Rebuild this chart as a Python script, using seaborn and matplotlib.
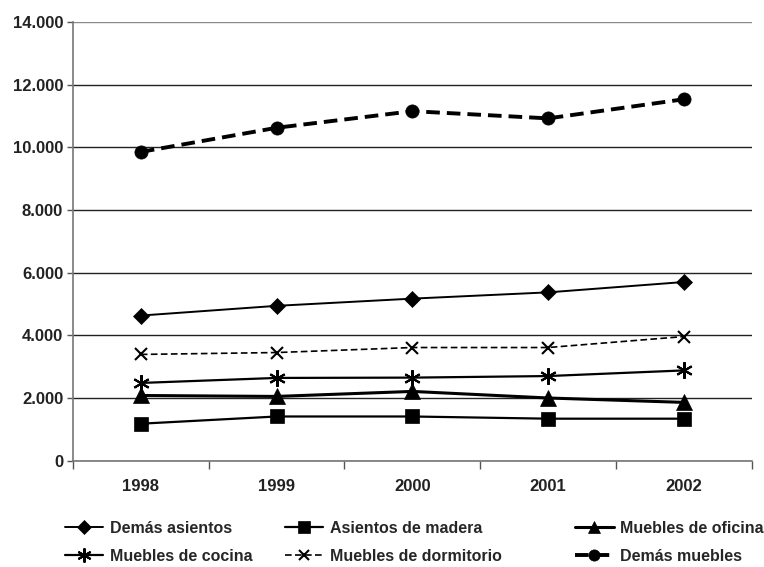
import numpy as np
import pandas as pd
import matplotlib
matplotlib.use("Agg")
import matplotlib.pyplot as plt
from matplotlib.ticker import FuncFormatter, FixedLocator
from matplotlib.lines import Line2D
import seaborn as sns

sns.set_theme(style="white")
plt.rcParams['font.family'] = ['Liberation Sans', 'DejaVu Sans']

years = ["1998", "1999", "2000", "2001", "2002"]
demas_asientos = [4630, 4940, 5170, 5370, 5700]
asientos_madera = [1180, 1410, 1410, 1340, 1340]
muebles_oficina = [2080, 2050, 2210, 2000, 1860]
muebles_cocina = [2480, 2640, 2650, 2700, 2880]
muebles_dormitorio = [3390, 3450, 3610, 3610, 3960]
demas_muebles = [9850, 10620, 11150, 10920, 11530]

series = {
    "Demás asientos": demas_asientos,
    "Asientos de madera": asientos_madera,
    "Muebles de oficina": muebles_oficina,
    "Muebles de cocina": muebles_cocina,
    "Muebles de dormitorio": muebles_dormitorio,
    "Demás muebles": demas_muebles,
}

# marker, markersize, linestyle, linewidth
styles = {
    "Demás asientos": ("D", 8, "-", 1.4),
    "Asientos de madera": ("s", 9.5, "-", 1.6),
    "Muebles de oficina": ("^", 11, "-", 2.2),
    "Muebles de cocina": ((6, 2, 0), 12, "-", 1.6),
    "Muebles de dormitorio": ("x", 8.5, (0, (4, 2)), 1.2),
    "Demás muebles": ("o", 9.5, (0, (3.5, 1.8)), 2.8),
}

fig = plt.figure(figsize=(7.64, 5.67), dpi=100)
ax = fig.add_axes([0.0955, 0.1875, 0.8885, 0.774])

xpos = np.arange(len(years))
handles = {}
for name, vals in series.items():
    m, ms, ls, lw = styles[name]
    mew = 1.5 if m in ("x", (6, 2, 0)) else 0.5
    df = pd.DataFrame({"x": xpos, "y": vals})
    sns.lineplot(data=df, x="x", y="y", ax=ax, color="black", marker=m,
                 markersize=ms, linestyle=ls, linewidth=lw,
                 markeredgecolor="black", markerfacecolor="black",
                 markeredgewidth=mew)
    handles[name] = Line2D([], [], color="black", marker=m, markersize=ms * 0.85,
                           linestyle=ls, linewidth=lw, markerfacecolor="black",
                           markeredgecolor="black", markeredgewidth=mew)

ax.set_xlim(-0.5, 4.5)
ax.set_ylim(0, 14000)
ax.set_yticks(np.arange(0, 14001, 2000))
ax.yaxis.set_major_formatter(FuncFormatter(lambda v, p: f"{int(v):,}".replace(",", ".")))
ax.set_xticks(xpos)
ax.set_xticklabels(years)
ax.xaxis.set_minor_locator(FixedLocator(np.arange(-0.5, 4.6, 1.0)))
ax.tick_params(axis="x", which="major", length=0, pad=13, labelsize=12)
ax.tick_params(axis="x", which="minor", length=6, width=1, color="#555555", direction="out", bottom=True)
ax.tick_params(axis="y", length=4, width=1, color="#555555", direction="out", left=True, labelsize=12, pad=3)
for lab in ax.get_xticklabels() + ax.get_yticklabels():
    lab.set_fontweight("bold")
    lab.set_color("#222222")

ax.grid(axis="y", color="#222222", linewidth=1)
ax.get_ygridlines()[-1].set_color("#888888")
ax.set_axisbelow(True)
ax.set_xlabel("")
ax.set_ylabel("")
for s in ["top", "right"]:
    ax.spines[s].set_visible(False)
for s in ["left", "bottom"]:
    ax.spines[s].set_color("#777777")
    ax.spines[s].set_linewidth(1.2)

cols = [["Demás asientos", "Muebles de cocina"],
        ["Asientos de madera", "Muebles de dormitorio"],
        ["Muebles de oficina", "Demás muebles"]]
anchors = [0.085, 0.373, 0.753]
for names, x0 in zip(cols, anchors):
    fig.legend([handles[n] for n in names], names, loc="upper left",
               bbox_to_anchor=(x0, 0.082), frameon=False,
               handlelength=2.4, handletextpad=0.4, labelspacing=0.85,
               borderaxespad=0, borderpad=0,
               prop={"weight": "bold", "size": 11.5})

fig.savefig("out.png", dpi=100)
